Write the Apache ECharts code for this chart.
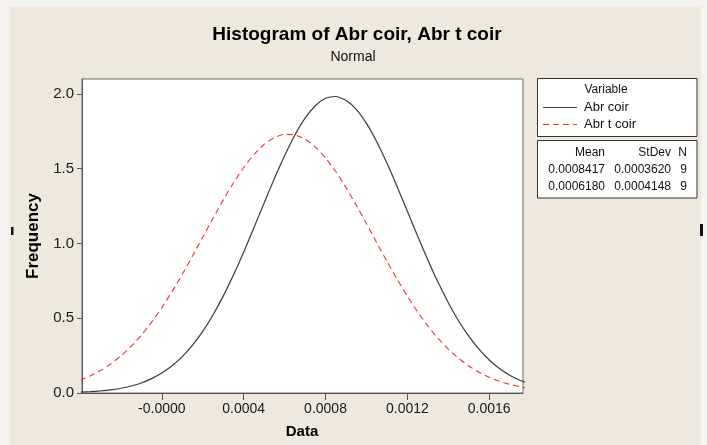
<!DOCTYPE html>
<html>
<head>
<meta charset="utf-8">
<title>Histogram of Abr coir, Abr t coir</title>
<script src="https://cdn.jsdelivr.net/npm/echarts@6/dist/echarts.min.js"></script>
<style>
    html, body { margin: 0; padding: 0; background: #f5f3f0; }
    #chart { width: 707px; height: 445px; }
</style>
</head>
<body>
<div id="chart"></div>
<script>
// fitted normal curves (Frequency vs Data)
var xValues = [-0.0004, -0.00035, -0.0003, -0.00025, -0.0002, -0.00015, -0.0001, -0.00005,
    0, 0.00005, 0.0001, 0.00015, 0.0002, 0.00025, 0.0003, 0.00035,
    0.0004, 0.00045, 0.0005, 0.00055, 0.0006, 0.00065, 0.0007, 0.00075,
    0.0008, 0.00085, 0.0009, 0.00095, 0.0010, 0.00105, 0.0011, 0.00115,
    0.0012, 0.00125, 0.0013, 0.00135, 0.0014, 0.00145, 0.0015, 0.00155,
    0.0016, 0.00165, 0.0017, 0.00175, 0.0018];
var abrCoir = [0.006, 0.009, 0.014, 0.021, 0.032, 0.047, 0.067, 0.096,
    0.133, 0.182, 0.243, 0.320, 0.412, 0.522, 0.648, 0.789,
    0.942, 1.105, 1.271, 1.434, 1.587, 1.724, 1.838, 1.921,
    1.971, 1.983, 1.958, 1.897, 1.803, 1.681, 1.538, 1.380,
    1.215, 1.050, 0.890, 0.740, 0.604, 0.483, 0.380, 0.293,
    0.221, 0.164, 0.119, 0.085, 0.060];
var abrTCoir = [0.085, 0.114, 0.150, 0.194, 0.248, 0.312, 0.387, 0.473,
    0.571, 0.678, 0.794, 0.916, 1.042, 1.168, 1.290, 1.405,
    1.508, 1.595, 1.663, 1.708, 1.730, 1.726, 1.698, 1.646,
    1.572, 1.481, 1.374, 1.257, 1.133, 1.006, 0.881, 0.761,
    0.647, 0.542, 0.448, 0.365, 0.293, 0.232, 0.181, 0.139,
    0.105, 0.078, 0.058, 0.042, 0.030];
var seriesNames = ['Abr coir', 'Abr t coir'];
var xTicks = [0, 0.0004, 0.0008, 0.0012, 0.0016];
var yTicks = [0, 0.5, 1.0, 1.5, 2.0];
var statHeader = ['Mean', 'StDev', 'N'];
var statRows = [
    ['0.0008417', '0.0003620', '9'],
    ['0.0006180', '0.0004148', '9']
];

var FONT = "'Liberation Sans', Arial, sans-serif";
var BLACK = '#3a3a3a';
var RED = '#ff2a2a';

function pairs(xs, ys) {
    var out = [];
    xs.forEach(function (x, i) { out.push([x, ys[i]]); });
    return out;
}

var chart = echarts.init(document.getElementById('chart'), null, { renderer: 'canvas' });

// stats table texts
var statCols = [605, 671, 687];
var statY = [153, 170, 187];
var statGraphics = [];
[statHeader].concat(statRows).forEach(function (row, r) {
    row.forEach(function (txt, c) {
        statGraphics.push({
            type: 'text', z: 110, x: statCols[c], y: statY[r],
            style: { text: txt, fill: '#111', font: '12px ' + FONT, align: 'right', verticalAlign: 'middle' }
        });
    });
});

// legend (line samples + names)
var legendGraphics = [];
seriesNames.forEach(function (name, i) {
    var y = 107 + i * 17;
    legendGraphics.push({
        type: 'line', z: 110, shape: { x1: 543, y1: y + 0.5, x2: 577, y2: y + 0.5 },
        style: { stroke: i === 0 ? BLACK : RED, lineWidth: 1.1, lineDash: i === 0 ? null : [6, 4] }
    });
    legendGraphics.push({
        type: 'text', z: 110, x: 584, y: y,
        style: { text: name, font: '13px ' + FONT, fill: '#111', align: 'left', verticalAlign: 'middle' }
    });
});

var option = {
    backgroundColor: '#f5f3f0',
    animation: false,
    grid: {
        left: 82, right: 184, top: 79, bottom: 52,
        show: true, backgroundColor: '#ffffff', borderColor: '#6a6a6a', borderWidth: 1
    },
    xAxis: {
        type: 'value',
        min: -0.00039, max: 0.001765,
        axisLine: { show: true, onZero: false, lineStyle: { color: '#555' } },
        axisTick: { show: true, length: 7, customValues: xTicks, lineStyle: { color: '#555' } },
        axisLabel: {
            customValues: xTicks, margin: 9,
            fontFamily: FONT, fontSize: 14, color: '#1a1a1a',
            formatter: function (v) { return v === 0 ? '-0.0000' : v.toFixed(4); }
        },
        splitLine: { show: false }
    },
    yAxis: {
        type: 'value',
        min: 0, max: 2.1,
        axisLine: { show: true, onZero: false, lineStyle: { color: '#555' } },
        axisTick: { show: true, length: 5, customValues: yTicks, lineStyle: { color: '#555' } },
        axisLabel: {
            customValues: yTicks, margin: 8,
            fontFamily: FONT, fontSize: 15, color: '#1a1a1a',
            formatter: function (v) { return v.toFixed(1); }
        },
        splitLine: { show: false }
    },
    series: [{
        name: seriesNames[0],
        type: 'line',
        data: pairs(xValues, abrCoir),
        smooth: 0.2,
        symbol: 'none',
        lineStyle: { color: BLACK, width: 1.2 }
    }, {
        name: seriesNames[1],
        type: 'line',
        data: pairs(xValues, abrTCoir),
        smooth: 0.2,
        symbol: 'none',
        lineStyle: { color: RED, width: 1.1, type: [6, 4] }
    }],
    graphic: [
        // beige panel
        { type: 'rect', z: -10, shape: { x: 10, y: 7, width: 691, height: 438 }, style: { fill: '#eee8dd' } },
        { type: 'rect', z: -10, shape: { x: 11, y: 227, width: 2.5, height: 8 }, style: { fill: '#111' } },
        { type: 'rect', z: -10, shape: { x: 700, y: 224, width: 3, height: 12 }, style: { fill: '#111' } },
        // title
        { type: 'text', x: 357, y: 35, style: { text: 'Histogram of Abr coir, Abr t coir', font: 'bold 19px ' + FONT, fill: '#000', align: 'center', verticalAlign: 'middle' } },
        { type: 'text', x: 353, y: 57.5, style: { text: 'Normal', font: '14px ' + FONT, fill: '#111', align: 'center', verticalAlign: 'middle' } },
        // axis titles
        { type: 'text', x: 33.5, y: 236, rotation: Math.PI / 2, style: { text: 'Frequency', font: 'bold 17px ' + FONT, fill: '#000', align: 'center', verticalAlign: 'middle' } },
        { type: 'text', x: 302, y: 432, style: { text: 'Data', font: 'bold 15px ' + FONT, fill: '#000', align: 'center', verticalAlign: 'middle' } },
        // legend boxes
        { type: 'rect', z: 100, shape: { x: 537.5, y: 78.5, width: 159.5, height: 58 }, style: { fill: '#fff', stroke: '#333', lineWidth: 1 } },
        { type: 'text', z: 110, x: 606, y: 90, style: { text: 'Variable', font: '12px ' + FONT, fill: '#111', align: 'center', verticalAlign: 'middle' } },
        { type: 'rect', z: 100, shape: { x: 537.5, y: 140.5, width: 159.5, height: 57.5 }, style: { fill: '#fff', stroke: '#333', lineWidth: 1 } }
    ].concat(legendGraphics, statGraphics)
};

chart.setOption(option);
</script>
</body>
</html>
